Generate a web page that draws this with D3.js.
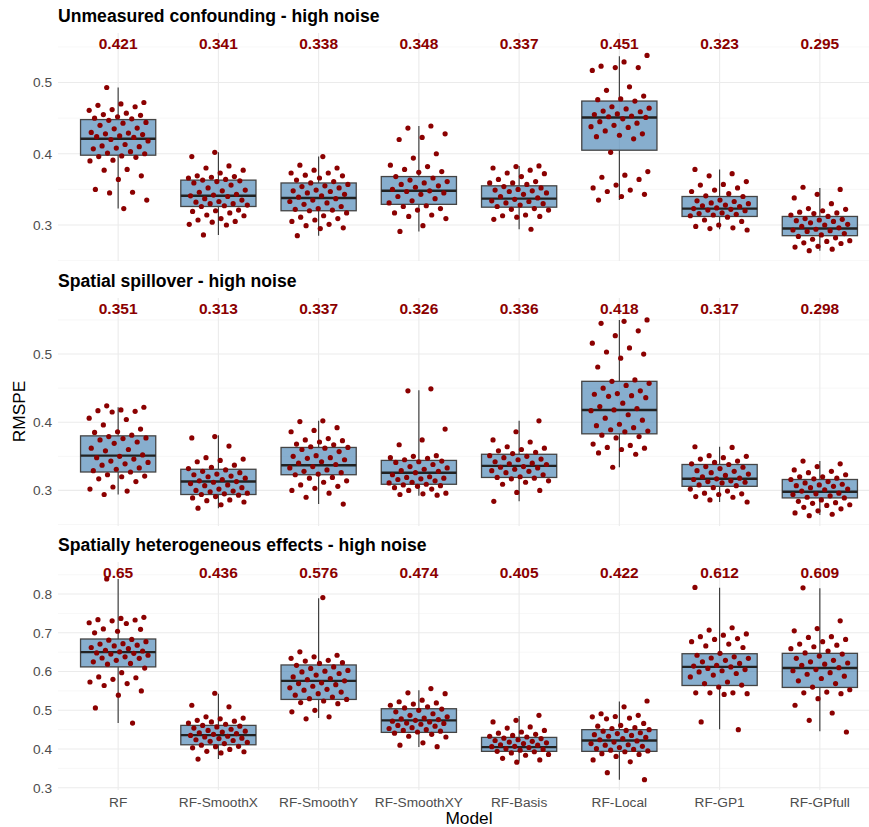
<!DOCTYPE html>
<html lang="en">
<head>
<meta charset="UTF-8">
<title>RMSPE by model</title>
<script src="https://d3js.org/d3.v7.min.js"></script>
<style>
    body { margin: 0; background: #fff; }
    svg { font-family: "Liberation Sans", Arial, sans-serif; display: block; }
    .grid-major { stroke: #ebebeb; stroke-width: 1.1; }
    .grid-minor { stroke: #f2f2f2; stroke-width: 0.6; }
    .tick-label { fill: #4d4d4d; font-size: 13.7px; }
    .strip { font-size: 17.6px; font-weight: bold; fill: #000; }
    .median-label { font-size: 15.5px; font-weight: bold; fill: #8b0000; }
    .axis-title { font-size: 17.3px; fill: #000; }
</style>
</head>
<body>
<div id="chart"></div>
<script>
    const models = ["RF", "RF-SmoothX", "RF-SmoothY", "RF-SmoothXY", "RF-Basis", "RF-Local", "RF-GP1", "RF-GPfull"];
    const scenarios = [
        "Unmeasured confounding - high noise",
        "Spatial spillover - high noise",
        "Spatially heterogeneous effects - high noise"
    ];

    // box statistics per scenario, in model order
    const medians = [
        [0.421, 0.341, 0.338, 0.348, 0.337, 0.451, 0.323, 0.295],
        [0.351, 0.313, 0.337, 0.326, 0.336, 0.418, 0.317, 0.298],
        [0.65, 0.436, 0.576, 0.474, 0.405, 0.422, 0.612, 0.609]
    ];
    const q1 = [
        [0.398, 0.326, 0.320, 0.329, 0.325, 0.405, 0.312, 0.285],
        [0.327, 0.294, 0.323, 0.309, 0.319, 0.383, 0.306, 0.289],
        [0.612, 0.411, 0.528, 0.443, 0.394, 0.394, 0.564, 0.559]
    ];
    const q3 = [
        [0.448, 0.363, 0.359, 0.368, 0.355, 0.474, 0.340, 0.312],
        [0.380, 0.331, 0.363, 0.344, 0.353, 0.460, 0.338, 0.316],
        [0.684, 0.461, 0.617, 0.504, 0.430, 0.450, 0.646, 0.647]
    ];
    const whiskerLo = [
        [0.323, 0.286, 0.285, 0.291, 0.294, 0.335, 0.294, 0.264],
        [0.294, 0.274, 0.280, 0.292, 0.284, 0.334, 0.283, 0.264],
        [0.467, 0.374, 0.480, 0.405, 0.368, 0.321, 0.451, 0.446]
    ];
    const whiskerHi = [
        [0.493, 0.402, 0.396, 0.439, 0.383, 0.537, 0.378, 0.352],
        [0.422, 0.381, 0.402, 0.447, 0.402, 0.550, 0.364, 0.343],
        [0.839, 0.543, 0.789, 0.552, 0.485, 0.523, 0.816, 0.815]
    ];

    // RMSPE of each simulation run
    const runs = [
        [
            [0.493, 0.472, 0.470, 0.468, 0.466, 0.462, 0.461, 0.457, 0.455, 0.454, 0.452, 0.450, 0.449, 0.447, 0.444, 0.443, 0.440, 0.436, 0.435, 0.430, 0.429, 0.428, 0.427, 0.425, 0.424, 0.423, 0.420, 0.418, 0.413, 0.411, 0.410, 0.408, 0.407, 0.403, 0.401, 0.400, 0.397, 0.396, 0.395, 0.391, 0.390, 0.378, 0.377, 0.369, 0.364, 0.350, 0.346, 0.345, 0.335, 0.323],
            [0.402, 0.396, 0.383, 0.380, 0.377, 0.373, 0.369, 0.368, 0.367, 0.366, 0.364, 0.363, 0.362, 0.361, 0.359, 0.356, 0.352, 0.349, 0.348, 0.346, 0.343, 0.342, 0.341, 0.340, 0.337, 0.335, 0.333, 0.332, 0.330, 0.330, 0.328, 0.327, 0.326, 0.321, 0.320, 0.319, 0.317, 0.314, 0.313, 0.309, 0.307, 0.305, 0.304, 0.301, 0.300, 0.286],
            [0.396, 0.384, 0.380, 0.377, 0.373, 0.373, 0.370, 0.369, 0.366, 0.363, 0.361, 0.359, 0.357, 0.355, 0.354, 0.352, 0.349, 0.348, 0.347, 0.345, 0.343, 0.341, 0.339, 0.337, 0.335, 0.333, 0.331, 0.329, 0.326, 0.323, 0.322, 0.321, 0.320, 0.317, 0.313, 0.311, 0.309, 0.307, 0.305, 0.301, 0.299, 0.296, 0.295, 0.285],
            [0.439, 0.436, 0.428, 0.423, 0.420, 0.400, 0.394, 0.384, 0.382, 0.378, 0.375, 0.374, 0.368, 0.366, 0.363, 0.361, 0.359, 0.357, 0.355, 0.353, 0.350, 0.348, 0.347, 0.345, 0.343, 0.340, 0.337, 0.334, 0.331, 0.327, 0.326, 0.323, 0.321, 0.317, 0.314, 0.312, 0.309, 0.299, 0.291],
            [0.383, 0.382, 0.380, 0.377, 0.373, 0.372, 0.368, 0.364, 0.361, 0.359, 0.359, 0.357, 0.354, 0.352, 0.350, 0.349, 0.348, 0.347, 0.345, 0.343, 0.340, 0.338, 0.336, 0.334, 0.333, 0.331, 0.330, 0.328, 0.326, 0.323, 0.322, 0.321, 0.314, 0.313, 0.312, 0.311, 0.308, 0.294],
            [0.538, 0.529, 0.523, 0.521, 0.521, 0.517, 0.494, 0.489, 0.481, 0.477, 0.476, 0.474, 0.466, 0.464, 0.463, 0.460, 0.459, 0.456, 0.455, 0.453, 0.452, 0.451, 0.449, 0.445, 0.443, 0.440, 0.438, 0.437, 0.432, 0.428, 0.426, 0.424, 0.421, 0.402, 0.375, 0.370, 0.367, 0.364, 0.356, 0.352, 0.349, 0.347, 0.343, 0.340, 0.335],
            [0.378, 0.372, 0.369, 0.361, 0.357, 0.356, 0.352, 0.349, 0.347, 0.344, 0.341, 0.340, 0.335, 0.334, 0.333, 0.331, 0.330, 0.328, 0.327, 0.326, 0.324, 0.323, 0.322, 0.321, 0.320, 0.317, 0.316, 0.315, 0.314, 0.313, 0.311, 0.307, 0.305, 0.300, 0.298, 0.296, 0.295, 0.293],
            [0.353, 0.350, 0.343, 0.338, 0.330, 0.323, 0.322, 0.320, 0.318, 0.317, 0.316, 0.314, 0.312, 0.309, 0.308, 0.307, 0.306, 0.305, 0.303, 0.301, 0.300, 0.298, 0.296, 0.294, 0.293, 0.292, 0.291, 0.288, 0.286, 0.284, 0.282, 0.280, 0.278, 0.277, 0.275, 0.274, 0.270, 0.269, 0.266, 0.264]
        ],
        [
            [0.424, 0.422, 0.418, 0.417, 0.416, 0.415, 0.406, 0.404, 0.396, 0.390, 0.386, 0.385, 0.381, 0.379, 0.377, 0.376, 0.374, 0.371, 0.369, 0.362, 0.360, 0.358, 0.352, 0.350, 0.348, 0.346, 0.343, 0.341, 0.339, 0.337, 0.333, 0.331, 0.329, 0.327, 0.323, 0.321, 0.320, 0.317, 0.313, 0.305, 0.302, 0.299, 0.294],
            [0.379, 0.377, 0.365, 0.348, 0.346, 0.344, 0.342, 0.337, 0.334, 0.332, 0.330, 0.328, 0.326, 0.324, 0.323, 0.321, 0.320, 0.318, 0.316, 0.314, 0.313, 0.312, 0.310, 0.308, 0.307, 0.304, 0.302, 0.300, 0.299, 0.298, 0.296, 0.295, 0.294, 0.293, 0.291, 0.289, 0.286, 0.285, 0.283, 0.279, 0.274],
            [0.402, 0.401, 0.392, 0.388, 0.386, 0.376, 0.374, 0.373, 0.371, 0.368, 0.367, 0.364, 0.363, 0.362, 0.360, 0.357, 0.351, 0.350, 0.348, 0.347, 0.345, 0.342, 0.340, 0.338, 0.335, 0.333, 0.330, 0.328, 0.326, 0.324, 0.323, 0.319, 0.318, 0.314, 0.312, 0.308, 0.306, 0.303, 0.300, 0.296, 0.290, 0.280],
            [0.449, 0.446, 0.390, 0.374, 0.367, 0.351, 0.350, 0.348, 0.347, 0.345, 0.343, 0.342, 0.341, 0.338, 0.335, 0.333, 0.331, 0.329, 0.328, 0.326, 0.323, 0.320, 0.319, 0.318, 0.317, 0.316, 0.314, 0.312, 0.311, 0.309, 0.308, 0.307, 0.306, 0.304, 0.302, 0.300, 0.296, 0.295, 0.294, 0.293],
            [0.402, 0.386, 0.374, 0.371, 0.364, 0.362, 0.360, 0.358, 0.356, 0.354, 0.351, 0.350, 0.348, 0.346, 0.345, 0.342, 0.340, 0.339, 0.338, 0.335, 0.334, 0.333, 0.331, 0.329, 0.328, 0.326, 0.323, 0.320, 0.319, 0.318, 0.317, 0.314, 0.312, 0.309, 0.300, 0.297, 0.284],
            [0.550, 0.548, 0.545, 0.534, 0.527, 0.516, 0.509, 0.503, 0.500, 0.494, 0.481, 0.462, 0.460, 0.457, 0.454, 0.450, 0.446, 0.442, 0.441, 0.439, 0.438, 0.436, 0.428, 0.423, 0.420, 0.418, 0.417, 0.411, 0.406, 0.403, 0.397, 0.395, 0.392, 0.389, 0.387, 0.386, 0.381, 0.379, 0.377, 0.368, 0.366, 0.363, 0.362, 0.360, 0.355, 0.353, 0.334],
            [0.364, 0.363, 0.351, 0.350, 0.348, 0.346, 0.343, 0.341, 0.339, 0.338, 0.335, 0.334, 0.332, 0.329, 0.328, 0.326, 0.324, 0.322, 0.320, 0.318, 0.317, 0.316, 0.314, 0.313, 0.312, 0.311, 0.308, 0.307, 0.304, 0.302, 0.299, 0.296, 0.295, 0.294, 0.291, 0.290, 0.286, 0.283],
            [0.343, 0.339, 0.335, 0.330, 0.328, 0.326, 0.323, 0.320, 0.320, 0.318, 0.317, 0.316, 0.313, 0.311, 0.309, 0.308, 0.307, 0.306, 0.304, 0.302, 0.301, 0.299, 0.296, 0.295, 0.294, 0.292, 0.290, 0.289, 0.286, 0.284, 0.282, 0.281, 0.279, 0.278, 0.275, 0.273, 0.270, 0.267, 0.265, 0.263]
        ],
        [
            [0.839, 0.740, 0.737, 0.734, 0.733, 0.731, 0.726, 0.724, 0.710, 0.709, 0.704, 0.700, 0.683, 0.681, 0.677, 0.672, 0.671, 0.668, 0.666, 0.662, 0.659, 0.655, 0.653, 0.651, 0.648, 0.647, 0.645, 0.642, 0.638, 0.635, 0.634, 0.629, 0.625, 0.621, 0.619, 0.609, 0.597, 0.586, 0.584, 0.580, 0.573, 0.569, 0.564, 0.550, 0.539, 0.506, 0.467],
            [0.544, 0.513, 0.509, 0.483, 0.480, 0.478, 0.474, 0.472, 0.470, 0.467, 0.464, 0.461, 0.459, 0.457, 0.454, 0.451, 0.448, 0.446, 0.444, 0.442, 0.440, 0.438, 0.435, 0.433, 0.431, 0.428, 0.427, 0.424, 0.422, 0.420, 0.417, 0.414, 0.410, 0.407, 0.406, 0.403, 0.399, 0.394, 0.393, 0.390, 0.374],
            [0.791, 0.651, 0.642, 0.638, 0.634, 0.629, 0.627, 0.623, 0.621, 0.616, 0.612, 0.608, 0.603, 0.601, 0.599, 0.595, 0.591, 0.586, 0.582, 0.579, 0.576, 0.571, 0.569, 0.566, 0.562, 0.558, 0.554, 0.552, 0.547, 0.543, 0.539, 0.534, 0.530, 0.528, 0.524, 0.520, 0.517, 0.500, 0.496, 0.483, 0.478],
            [0.556, 0.545, 0.543, 0.526, 0.522, 0.519, 0.516, 0.513, 0.509, 0.506, 0.503, 0.500, 0.496, 0.491, 0.487, 0.483, 0.480, 0.478, 0.476, 0.474, 0.472, 0.470, 0.467, 0.466, 0.464, 0.461, 0.459, 0.455, 0.453, 0.450, 0.448, 0.446, 0.444, 0.441, 0.438, 0.433, 0.431, 0.416, 0.410, 0.406],
            [0.487, 0.474, 0.470, 0.457, 0.454, 0.448, 0.444, 0.441, 0.438, 0.435, 0.433, 0.431, 0.428, 0.427, 0.424, 0.422, 0.420, 0.418, 0.416, 0.414, 0.411, 0.410, 0.407, 0.406, 0.404, 0.401, 0.399, 0.397, 0.394, 0.393, 0.390, 0.386, 0.384, 0.376, 0.372, 0.366],
            [0.524, 0.509, 0.491, 0.487, 0.484, 0.483, 0.480, 0.478, 0.466, 0.461, 0.459, 0.455, 0.453, 0.450, 0.448, 0.446, 0.442, 0.440, 0.437, 0.435, 0.433, 0.430, 0.427, 0.424, 0.421, 0.418, 0.414, 0.411, 0.410, 0.407, 0.404, 0.401, 0.399, 0.397, 0.395, 0.393, 0.388, 0.386, 0.381, 0.372, 0.367, 0.339, 0.321],
            [0.817, 0.713, 0.707, 0.697, 0.694, 0.690, 0.685, 0.683, 0.677, 0.671, 0.666, 0.662, 0.647, 0.642, 0.638, 0.635, 0.634, 0.629, 0.625, 0.621, 0.616, 0.614, 0.612, 0.608, 0.605, 0.602, 0.599, 0.595, 0.591, 0.586, 0.573, 0.569, 0.565, 0.560, 0.545, 0.545, 0.545, 0.543, 0.541, 0.470, 0.450],
            [0.816, 0.731, 0.711, 0.705, 0.690, 0.688, 0.683, 0.677, 0.671, 0.668, 0.664, 0.659, 0.653, 0.648, 0.645, 0.640, 0.634, 0.629, 0.625, 0.622, 0.619, 0.616, 0.610, 0.605, 0.602, 0.597, 0.593, 0.588, 0.582, 0.576, 0.569, 0.560, 0.553, 0.547, 0.545, 0.543, 0.530, 0.513, 0.493, 0.474, 0.444]
        ]
    ];

    const width = 869;
    const height = 827;
    const panelLeft = 58;
    const panelRight = 880;      // the drawing runs a little past the window, as in the source
    const panelTops = [33, 298, 562];
    const panelHeight = 228;
    const boxWidth = 0.75;
    const jitterWidth = 0.3;

    const svg = d3.select("#chart")
        .append("svg")
        .attr("width", width)
        .attr("height", height);

    const x = d3.scalePoint()
        .domain(models)
        .range([panelLeft, panelRight])
        .padding(0.6);
    const step = x.step();

    scenarios.forEach((title, p) => {
        const top = panelTops[p];
        const pts = runs[p];
        const labelLevel = d3.max(pts.flat()) + 0.017;
        const lo = d3.min(pts.flat());
        const pad = (labelLevel - lo) * 0.05;

        const y = d3.scaleLinear()
            .domain([lo - pad, labelLevel + pad])
            .range([top + panelHeight, top]);
        const [d0, d1] = y.domain();

        const g = svg.append("g");

        // 0.1 major steps, minor half-way between
        const major = d3.range(Math.ceil(d0 * 10), Math.floor(d1 * 10) + 1).map(k => k / 10);
        const minor = d3.range(Math.floor(d0 * 10), Math.ceil(d1 * 10)).map(k => k / 10 + 0.05)
            .filter(v => v > d0 && v < d1);

        g.selectAll(".grid-minor")
            .data(minor)
            .join("line")
            .attr("class", "grid-minor")
            .attr("x1", panelLeft).attr("x2", panelRight)
            .attr("y1", d => y(d)).attr("y2", d => y(d));

        g.selectAll(".grid-major-h")
            .data(major)
            .join("line")
            .attr("class", "grid-major")
            .attr("x1", panelLeft).attr("x2", panelRight)
            .attr("y1", d => y(d)).attr("y2", d => y(d));

        g.selectAll(".grid-major-v")
            .data(models)
            .join("line")
            .attr("class", "grid-major")
            .attr("x1", d => x(d)).attr("x2", d => x(d))
            .attr("y1", top).attr("y2", top + panelHeight);

        // y tick labels
        g.selectAll(".tick-label")
            .data(major)
            .join("text")
            .attr("class", "tick-label")
            .attr("x", 52)
            .attr("y", d => y(d))
            .attr("dy", "0.35em")
            .attr("text-anchor", "end")
            .text(d => d3.format(".1f")(d));

        // strip title
        g.append("text")
            .attr("class", "strip")
            .attr("x", panelLeft)
            .attr("y", top - 11)
            .text(title);

        // boxplots
        const boxes = g.selectAll(".box")
            .data(models.map((m, i) => ({
                model: m,
                lo: whiskerLo[p][i], q1: q1[p][i], med: medians[p][i], q3: q3[p][i], hi: whiskerHi[p][i]
            })))
            .join("g")
            .attr("class", "box");

        boxes.append("line")
            .attr("x1", d => x(d.model)).attr("x2", d => x(d.model))
            .attr("y1", d => y(d.hi)).attr("y2", d => y(d.q3))
            .attr("stroke", "#333").attr("stroke-width", 1.1);
        boxes.append("line")
            .attr("x1", d => x(d.model)).attr("x2", d => x(d.model))
            .attr("y1", d => y(d.q1)).attr("y2", d => y(d.lo))
            .attr("stroke", "#333").attr("stroke-width", 1.1);
        boxes.append("rect")
            .attr("x", d => x(d.model) - boxWidth * step / 2)
            .attr("width", boxWidth * step)
            .attr("y", d => y(d.q3))
            .attr("height", d => y(d.q1) - y(d.q3))
            .attr("fill", "rgba(70,130,180,0.65)")
            .attr("stroke", "#444")
            .attr("stroke-width", 1.3);
        boxes.append("line")
            .attr("x1", d => x(d.model) - boxWidth * step / 2)
            .attr("x2", d => x(d.model) + boxWidth * step / 2)
            .attr("y1", d => y(d.med)).attr("y2", d => y(d.med))
            .attr("stroke", "#222").attr("stroke-width", 2.4);

        // jittered runs (deterministic spread)
        models.forEach((m, i) => {
            g.selectAll(null)
                .data(pts[i])
                .join("circle")
                .attr("cx", (d, k) => {
                    const u = (k * 0.6180339887 + 0.31 + i * 0.13) % 1;
                    return x(m) + (u * 2 - 1) * jitterWidth * step;
                })
                .attr("cy", d => y(d))
                .attr("r", 2.6)
                .attr("fill", "#8b0000");
        });

        // median labels
        g.selectAll(".median-label")
            .data(models)
            .join("text")
            .attr("class", "median-label")
            .attr("x", d => x(d))
            .attr("y", y(labelLevel))
            .attr("dy", "0.36em")
            .attr("text-anchor", "middle")
            .text((d, i) => String(medians[p][i]));

        // x tick labels only under the last panel
        if (p === scenarios.length - 1) {
            svg.selectAll(".x-label")
                .data(models)
                .join("text")
                .attr("class", "tick-label x-label")
                .attr("x", d => x(d))
                .attr("y", top + panelHeight + 17)
                .attr("text-anchor", "middle")
                .text(d => d);
        }
    });

    svg.append("text")
        .attr("class", "axis-title")
        .attr("transform", `translate(25, ${(panelTops[0] + panelTops[2] + panelHeight) / 2}) rotate(-90)`)
        .attr("text-anchor", "middle")
        .text("RMSPE");

    svg.append("text")
        .attr("class", "axis-title")
        .attr("x", (panelLeft + panelRight) / 2)
        .attr("y", 824)
        .attr("text-anchor", "middle")
        .text("Model");
</script>
</body>
</html>
